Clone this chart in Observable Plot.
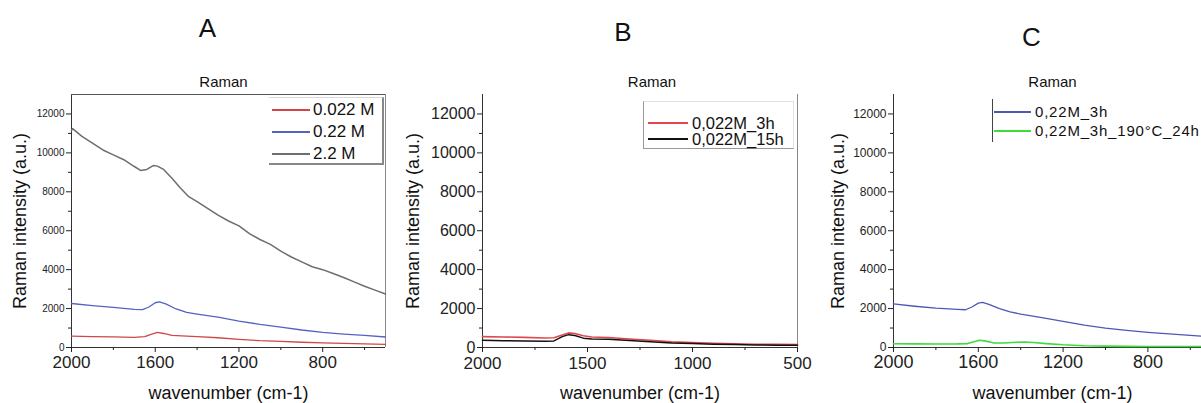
<!DOCTYPE html>
<html><head><meta charset="utf-8">
<script src="https://cdn.jsdelivr.net/npm/d3@7"></script>
<script src="https://cdn.jsdelivr.net/npm/@observablehq/plot@0.6"></script>
<style>
html,body{margin:0;padding:0;background:#fff;overflow:hidden}
#wrap{position:relative;width:1201px;height:403px;overflow:hidden;background:#fff;font-family:"Liberation Sans",Arial,sans-serif}
.panel{position:absolute;top:0}
.panel svg{max-width:none !important}
.legend{position:absolute;box-sizing:border-box}
.row{position:absolute;display:flex;align-items:center;white-space:nowrap;color:#111}
.sw{display:inline-block;height:2px}
</style></head><body><div id="wrap"></div>
<script>
// ---------- data ----------
// Panel A
const wnA022 = [2000,1900,1800,1700,1650,1620,1590,1560,1520,1450,1400,1300,1200,1100,1000,900,800,700,600,500];
const intA022 = [580,560,545,520,560,680,780,720,620,580,560,500,420,350,310,270,240,215,190,165];
const wnA22 = [2000,1900,1800,1700,1660,1630,1600,1580,1550,1500,1450,1400,1300,1200,1100,1000,900,800,700,600,500];
const intA22 = [2260,2150,2060,1960,1950,2080,2300,2340,2240,1980,1810,1720,1560,1360,1190,1050,900,780,690,620,540];
const wnA2 = [2000,1995,1950,1900,1850,1800,1750,1700,1670,1640,1610,1590,1560,1520,1480,1440,1400,1350,1300,1250,1200,1150,1100,1050,1000,950,900,850,800,750,700,650,600,550,500];
const intA2 = [11150,11250,10850,10500,10150,9900,9650,9300,9100,9150,9350,9320,9150,8700,8200,7750,7500,7150,6800,6500,6250,5850,5550,5300,4950,4650,4400,4150,4000,3800,3600,3370,3150,2950,2750];
// Panel B
const wnB3h = [2000,1900,1800,1700,1660,1620,1590,1560,1520,1480,1400,1300,1200,1100,1000,900,800,700,600,500];
const intB3h = [560,540,520,490,500,640,750,720,600,540,510,440,370,290,250,220,190,170,160,150];
const wnB15h = [2000,1900,1800,1700,1660,1620,1590,1560,1520,1480,1400,1300,1200,1100,1000,900,800,700,600,500];
const intB15h = [370,350,330,320,340,560,660,620,480,440,420,360,300,230,200,170,150,130,120,110];
// Panel C
const wnC3h = [2000,1900,1800,1700,1660,1630,1600,1580,1550,1500,1450,1400,1300,1200,1100,1000,900,800,700,600,500];
const intC3h = [2240,2120,2020,1960,1940,2080,2280,2320,2220,2000,1830,1720,1540,1340,1150,1000,880,780,700,620,540];
const wnC190 = [2000,1900,1800,1700,1650,1620,1595,1570,1530,1480,1420,1380,1340,1280,1200,1100,1000,900,800,700,600,500];
const intC190 = [190,185,180,185,200,300,370,340,240,230,270,280,260,200,140,90,70,60,55,50,50,50];

// ticks & labels
const yMajor = [0,2000,4000,6000,8000,10000,12000];
const yMinor = [1000,3000,5000,7000,9000,11000];
const xMajorAC = [2000,1600,1200,800];
const xMinorAC = [1800,1400,1000,600];
const xMajorB = [2000,1500,1000,500];
const xMinorB = [1750,1250,750];
const namesA = ["0.022 M","0.22 M","2.2 M"];
const namesB = ["0,022M_3h","0,022M_15h"];
const namesC = ["0,22M_3h","0,22M_3h_190°C_24h"];
const colorsA = ["#d0464a","#5562c4","#6e6e6e"];
const colorsB = ["#e0484e","#111111"];
const colorsC = ["#4c58b6","#3ddc3d"];

const rows = (wn, v) => wn.map((w, i) => ({wn: w, v: v[i]}));
const wrap = document.getElementById("wrap");
const T = {textAnchor: "middle", lineAnchor: "middle", fill: "#111"};

function panel(cfg) {
  const H = 403, mt = 94, mb = 56;
  const marks = [
    Plot.ruleY([0], {stroke: "#333", strokeWidth: 1}),
    Plot.ruleX([2000], {stroke: "#333", strokeWidth: 1}),
    ...(cfg.frameTop ? [Plot.ruleY([13000], {stroke: "#555", strokeWidth: 1})] : []),
    ...(cfg.frameRight ? [Plot.ruleX([500], {stroke: "#888", strokeWidth: 1})] : []),
    Plot.axisY({ticks: yMajor, tickSize: 5, tickPadding: 2, tickFormat: d3.format("d"), fontSize: cfg.yFont, label: null}),
    Plot.axisY({ticks: yMinor, tickSize: 3, tickFormat: () => "", label: null}),
    Plot.axisX({ticks: cfg.xMajor, tickSize: 5, tickPadding: cfg.xPad || 3, tickFormat: d3.format("d"), fontSize: cfg.xFont, label: null}),
    Plot.axisX({ticks: cfg.xMinor, tickSize: 3, tickFormat: () => "", label: null}),
    ...cfg.series.map(s => Plot.line(rows(s.wn, s.v), {x: "wn", y: "v", stroke: s.color, strokeWidth: s.w || 1.3})),
    Plot.text(["Raman intensity (a.u.)"], {...T, text: d => d, frameAnchor: "left", rotate: -90, dx: cfg.ylabDx, fontSize: 18}),
    Plot.text(["wavenumber (cm-1)"], {...T, text: d => d, frameAnchor: "bottom", dy: 46, fontSize: 18}),
    Plot.text(["Raman"], {...T, text: d => d, frameAnchor: "top", dy: -12, dx: cfg.titleDx, fontSize: 15}),
    Plot.text([cfg.letter], {...T, text: d => d, frameAnchor: "top", dy: cfg.letterDy, dx: cfg.letterDx, fontSize: 26})
  ];
  const svg = Plot.plot({
    width: cfg.width, height: H,
    marginLeft: cfg.ml, marginRight: cfg.mr, marginTop: mt, marginBottom: mb,
    x: {domain: [2000, 500]},
    y: {domain: [0, 13000]},
    style: {background: "transparent", overflow: "visible", maxWidth: "none", fontFamily: "'Liberation Sans', Arial, sans-serif", color: "#222"},
    marks
  });
  svg.style.maxWidth = "none";
  svg.style.width = cfg.width + "px";
  svg.style.height = H + "px";
  const div = document.createElement("div");
  div.className = "panel";
  div.style.left = cfg.left + "px";
  div.style.width = cfg.width + "px";
  div.style.height = H + "px";
  div.appendChild(svg);
  wrap.appendChild(div);
}

panel({left: 0, width: 400, ml: 71, mr: 15, yFont: 10, xFont: 17,
  xMajor: xMajorAC, xMinor: xMinorAC, frameTop: true, frameRight: true,
  ylabDx: -51, titleDx: -5, letter: "A", letterDx: -21, letterDy: -66,
  series: [
    {wn: wnA2, v: intA2, color: colorsA[2], w: 1.5},
    {wn: wnA22, v: intA22, color: colorsA[1]},
    {wn: wnA022, v: intA022, color: colorsA[0]}
  ]});
panel({left: 400, width: 400, ml: 82, mr: 3, yFont: 16, xFont: 17, xPad: 4,
  xMajor: xMajorB, xMinor: xMinorB, frameTop: false, frameRight: true,
  ylabDx: -69, titleDx: 12, letter: "B", letterDx: -17, letterDy: -62,
  series: [
    {wn: wnB3h, v: intB3h, color: colorsB[0], w: 1.6},
    {wn: wnB15h, v: intB15h, color: colorsB[1], w: 1.5}
  ]});
panel({left: 800, width: 411, ml: 93, mr: 0, yFont: 12, xFont: 18,
  xMajor: xMajorAC, xMinor: xMinorAC, frameTop: false, frameRight: false,
  ylabDx: -55, titleDx: 0, letter: "C", letterDx: -21, letterDy: -57,
  series: [
    {wn: wnC3h, v: intC3h, color: colorsC[0]},
    {wn: wnC190, v: intC190, color: colorsC[1], w: 1.6}
  ]});

// ---------- legends ----------
function legend(box, items) {
  const lg = document.createElement("div");
  lg.className = "legend";
  Object.assign(lg.style, box.style, {left: box.left + "px", top: box.top + "px", width: box.width + "px", height: box.height + "px"});
  wrap.appendChild(lg);
  items.forEach((it, i) => {
    const r = document.createElement("div");
    r.className = "row";
    r.style.left = (box.swLeft - box.left) + "px";
    r.style.top = (box.rowCenters[i] - box.rowH / 2 - box.top) + "px";
    r.style.height = box.rowH + "px";
    r.style.lineHeight = box.rowH + "px";
    r.style.fontSize = box.font + "px";
    r.style.letterSpacing = (box.ls || 0) + "px";
    const sw = document.createElement("span");
    sw.className = "sw";
    sw.style.width = box.swW + "px";
    sw.style.background = it.color;
    sw.style.marginRight = box.gap + "px";
    r.appendChild(sw);
    r.appendChild(document.createTextNode(it.name));
    lg.appendChild(r);
  });
}
legend({left: 269, top: 97, width: 115, height: 68, swLeft: 272, swW: 38, gap: 3, font: 17, rowH: 20,
  rowCenters: [109, 131, 153],
  style: {borderTop: "1px solid #d8d8d8", borderRight: "2px solid #888", borderBottom: "2px solid #888"}},
  namesA.map((n, i) => ({name: n, color: colorsA[i]})));
legend({left: 643, top: 101, width: 151, height: 48, swLeft: 647, swW: 40, gap: 4, font: 16.5, rowH: 16,
  rowCenters: [122, 138],
  style: {borderLeft: "1px solid #999", borderBottom: "1px solid #999", borderTop: "1px solid #e2e2e2", borderRight: "1px solid #e2e2e2"}},
  namesB.map((n, i) => ({name: n, color: colorsB[i]})));
legend({left: 992, top: 99, width: 215, height: 43, swLeft: 993, swW: 37, gap: 4, font: 15, rowH: 18, ls: 0.8,
  rowCenters: [112, 131],
  style: {borderLeft: "1px solid #444"}},
  namesC.map((n, i) => ({name: n, color: colorsC[i]})));
</script></body></html>
